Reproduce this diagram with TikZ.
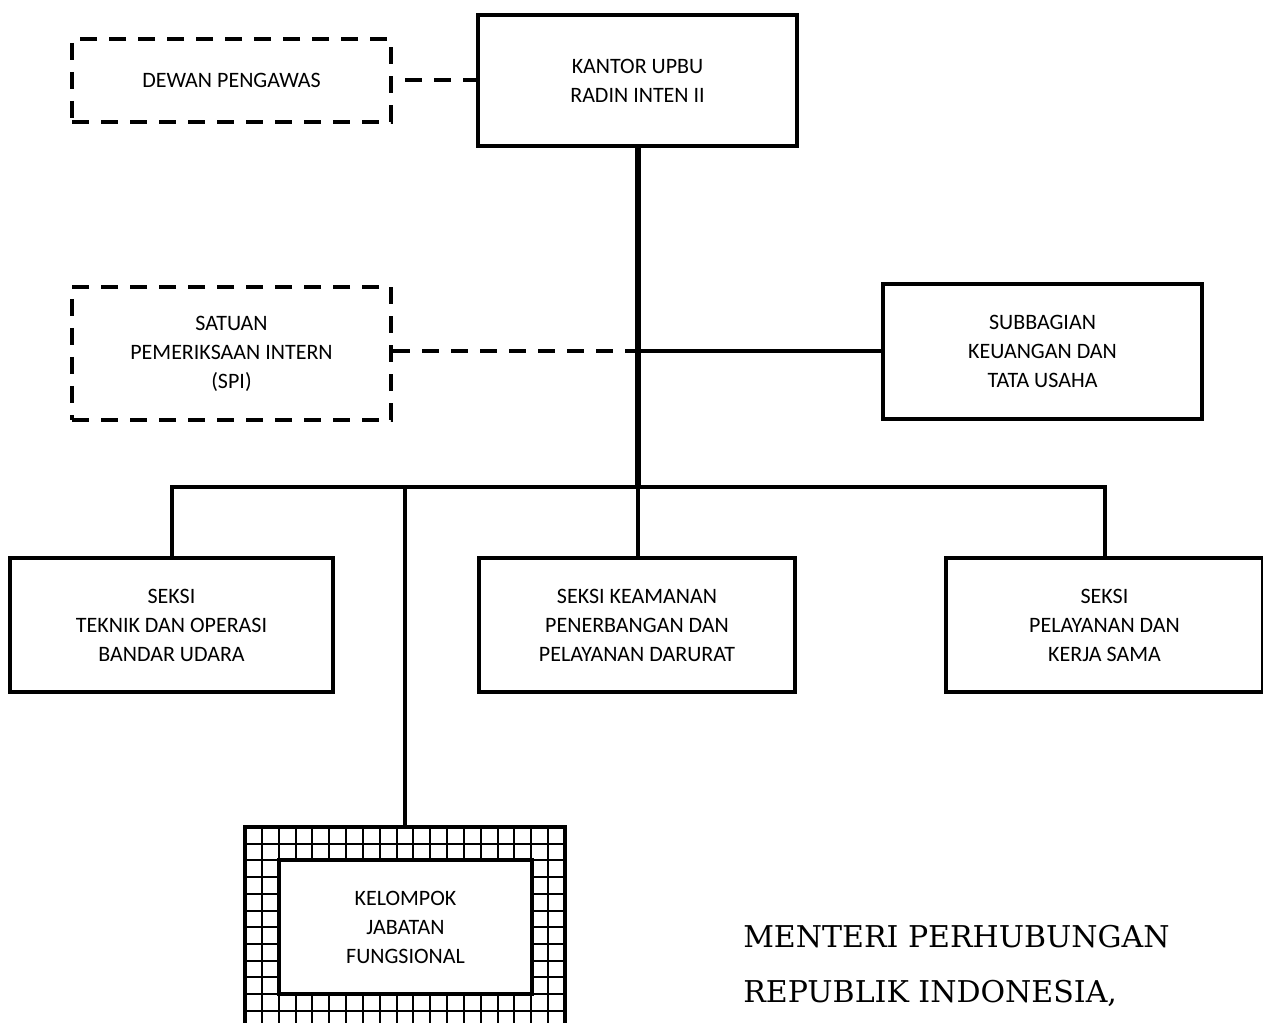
\documentclass[tikz,border=0pt]{standalone}
\usepackage{fontspec}
\newfontfamily\boxfont{Carlito}
\newfontfamily\serifsig{DejaVu Serif}
\begin{document}
\begin{tikzpicture}[x=0.75pt,y=-0.75pt,
  box/.style={draw, line width=3pt, align=center, inner sep=0pt, fill=white,
    font=\boxfont\fontsize{16.5pt}{21.75pt}\selectfont},
  dbox/.style={box, dash pattern=on 12.75pt off 9pt},
  link/.style={line width=3pt},
  trunkline/.style={line width=4.5pt},
  dlink/.style={line width=3pt, dash pattern=on 12.75pt off 9pt},
  gridline/.style={line width=1.5pt},
  sig/.style={anchor=base west, inner sep=0pt, font=\serifsig\fontsize{22.5pt}{27pt}\selectfont}
]
\useasboundingbox (0,0) rectangle (1263,1023);
\clip (0,0) rectangle (1263,1023);
\fill[white] (0,0) rectangle (1263,1023);

% boxes
\node[box, minimum width=239.25pt, minimum height=98.25pt] (kantor) at (637.5,80.5) {KANTOR UPBU\\RADIN INTEN II};
\node[dbox, minimum width=239.25pt, minimum height=62.25pt] (dewan) at (231.5,80.5) {DEWAN PENGAWAS};
\node[dbox, minimum width=239.25pt, minimum height=99.75pt] (spi) at (231.5,353.5) {SATUAN\\PEMERIKSAAN INTERN\\(SPI)};
\node[box, minimum width=239.25pt, minimum height=101.25pt] (subbag) at (1042.5,351.5) {SUBBAGIAN\\KEUANGAN DAN\\TATA USAHA};
\node[box, minimum width=242.25pt, minimum height=100.5pt] (teknik) at (171.5,625) {SEKSI\\TEKNIK DAN OPERASI\\BANDAR UDARA};
\node[box, minimum width=237pt, minimum height=100.5pt] (keamanan) at (637,625) {SEKSI KEAMANAN\\PENERBANGAN DAN\\PELAYANAN DARURAT};
\node[box, minimum width=237.75pt, minimum height=100.5pt] (pelayanan) at (1104.5,625) {SEKSI\\PELAYANAN DAN\\KERJA SAMA};

% hatched frame of the functional group
\node[draw, line width=3.5pt, minimum width=240pt, minimum height=159.75pt, inner sep=0pt] (fouter) at (405,933.5) {};
\begin{scope}
  \clip (fouter.south west) rectangle (fouter.north east);
  \foreach \i in {1,...,18} \draw[gridline] (245+\i*16.84,827) -- ++(0,220);
  \foreach \j in {1,...,12} \draw[gridline] (245,827+\j*16.7) -- ++(320,0);
\end{scope}
\node[draw, line width=3.5pt, minimum width=240pt, minimum height=159.75pt, inner sep=0pt] at (fouter) {};
\node[box, minimum width=189.75pt, minimum height=100.5pt] (kelompok) at (405.5,927) {KELOMPOK\\JABATAN\\FUNGSIONAL};

% junctions
\coordinate (j) at (638,487);
\coordinate (k) at (638,351);

% connectors
\draw[dlink, dash phase=12.75pt] (dewan.east) -- (kantor.west |- dewan.east);
\draw[trunkline] (kantor.south -| j) -- (j);
\draw[dlink] (spi.east |- k) -- (k);
\draw[link] (k) -- (subbag.west |- k);
\draw[link] (teknik.north) |- (j) -| (pelayanan.north);
\draw[link] (j) -- (keamanan.north -| j);
\draw[link] (fouter.north) |- (j);

% signature text
\node[sig] (menteri) at (743,947) {MENTERI PERHUBUNGAN};
\node[sig] (republik) at (743,1002) {REPUBLIK INDONESIA,};
\end{tikzpicture}
\end{document}
